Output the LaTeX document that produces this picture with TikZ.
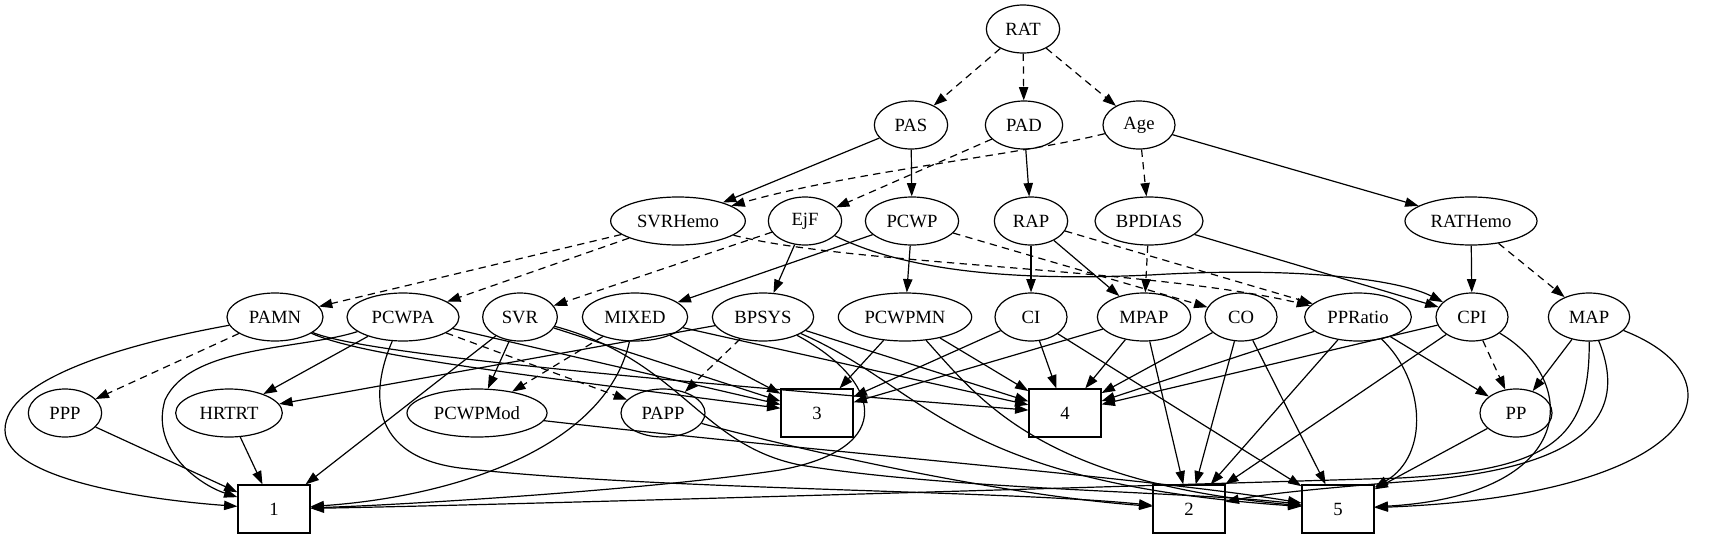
\documentclass[tikz,border=0pt]{standalone}
\usepackage{fontspec}
\setmainfont{Liberation Serif}
\usetikzlibrary{shapes.geometric,arrows.meta}
\begin{document}
\begin{tikzpicture}[x=0.75pt,y=-0.75pt,
  every node/.style={font=\fontsize{14}{16}\selectfont},
  el/.style={ellipse,draw,line width=0.9pt,minimum height=36pt,inner sep=0pt},
  bx/.style={rectangle,draw,line width=0.9pt,minimum width=54pt,minimum height=36pt,inner sep=0pt},
  ed/.style={line width=0.9pt,-{Triangle[length=10pt,width=7pt]}},
  de/.style={ed,dash pattern=on 5.5pt off 4pt}]
\useasboundingbox (0,0) rectangle (1723,539);
% nodes
\node[el,minimum width=55pt] (RAT) at (1023,29) {RAT};
\node[el,minimum width=55pt] (PAS) at (911,125) {PAS};
\node[el,minimum width=58pt] (PAD) at (1024,125) {PAD};
\node[el,minimum width=54pt] (Age) at (1139,125) {Age};
\node[el,minimum width=101pt] (SVRHemo) at (678,221) {SVRHemo};
\node[el,minimum width=55pt] (EjF) at (805,221) {EjF};
\node[el,minimum width=70pt] (PCWP) at (912,221) {PCWP};
\node[el,minimum width=55pt] (RAP) at (1031,221) {RAP};
\node[el,minimum width=81pt] (BPDIAS) at (1149,221) {BPDIAS};
\node[el,minimum width=99pt] (RATHemo) at (1471,221) {RATHemo};
\node[el,minimum width=72pt] (PAMN) at (275,317) {PAMN};
\node[el,minimum width=84pt] (PCWPA) at (403,317) {PCWPA};
\node[el,minimum width=56pt] (SVR) at (520,317) {SVR};
\node[el,minimum width=79pt] (MIXED) at (635,317) {MIXED};
\node[el,minimum width=76pt] (BPSYS) at (763,317) {BPSYS};
\node[el,minimum width=100pt] (PCWPMN) at (905,317) {PCWPMN};
\node[el,minimum width=54pt] (CI) at (1031,317) {CI};
\node[el,minimum width=70pt] (MPAP) at (1144,317) {MPAP};
\node[el,minimum width=54pt] (CO) at (1241,317) {CO};
\node[el,minimum width=80pt] (PPRatio) at (1358,317) {PPRatio};
\node[el,minimum width=54pt] (CPI) at (1472,317) {CPI};
\node[el,minimum width=61pt] (MAP) at (1589,317) {MAP};
\node[el,minimum width=55pt] (PPP) at (65,413) {PPP};
\node[el,minimum width=80pt] (HRTRT) at (229,413) {HRTRT};
\node[el,minimum width=105pt] (PCWPMod) at (477,413) {PCWPMod};
\node[el,minimum width=63pt] (PAPP) at (663,413) {PAPP};
\node[bx] (b3) at (817,413) {3};
\node[bx] (b4) at (1065,413) {4};
\node[el,minimum width=54pt] (PP) at (1516,413) {PP};
\node[bx] (b1) at (274,509) {1};
\node[bx] (b2) at (1189,509) {2};
\node[bx] (b5) at (1338,509) {5};
% dashed edges
\draw[de] (RAT) -- (PAS);
\draw[de] (RAT) -- (PAD);
\draw[de] (RAT) -- (Age);
\draw[de] (PAD) -- (EjF);
\draw[de] (Age) .. controls (1020,155) and (850,172) .. (SVRHemo);
\draw[de] (Age) -- (BPDIAS);
\draw[de] (SVRHemo) -- (PAMN);
\draw[de] (SVRHemo) -- (PCWPA);
\draw[de] (SVRHemo) .. controls (850,265) and (1150,268) .. (PPRatio);
\draw[de] (EjF) -- (SVR);
\draw[de] (PCWP) -- (CO);
\draw[de] (RAP) -- (PPRatio);
\draw[de] (BPDIAS) -- (MPAP);
\draw[de] (RATHemo) -- (MAP);
\draw[de] (PAMN) -- (PPP);
\draw[de] (PCWPA) -- (PAPP);
\draw[de] (MIXED) -- (PCWPMod);
\draw[de] (BPSYS) -- (PAPP);
\draw[de] (CPI) -- (PP);
% solid edges
\draw[ed] (PAS) -- (SVRHemo);
\draw[ed] (PAS) -- (PCWP);
\draw[ed] (PAD) -- (RAP);
\draw[ed] (Age) -- (RATHemo);
\draw[ed] (EjF) -- (BPSYS);
\draw[ed] (EjF) .. controls (900,268) and (1000,282) .. (1150,275) .. controls (1300,266) and (1400,280) .. (CPI);
\draw[ed] (PCWP) -- (MIXED);
\draw[ed] (PCWP) -- (PCWPMN);
\draw[ed] (RAP) -- (CI);
\draw[ed] (RAP) -- (MPAP);
\draw[ed] (BPDIAS) -- (CPI);
\draw[ed] (RATHemo) -- (CPI);
\draw[ed] (PAMN) .. controls (120,345) and (5,380) .. (5,430) .. controls (5,480) and (150,500) .. (b1);
\draw[ed] (PAMN) .. controls (360,355) and (500,372) .. (b3);
\draw[ed] (PAMN) .. controls (360,352) and (600,376) .. (b4);
\draw[ed] (PCWPA) -- (HRTRT);
\draw[ed] (PCWPA) .. controls (300,350) and (190,345) .. (165,400) .. controls (150,450) and (200,485) .. (b1);
\draw[ed] (PCWPA) .. controls (375,380) and (360,455) .. (460,468) .. controls (650,490) and (1000,490) .. (b2);
\draw[ed] (PCWPA) -- (b3);
\draw[ed] (SVR) -- (PCWPMod);
\draw[ed] (SVR) -- (b1);
\draw[ed] (SVR) -- (b3);
\draw[ed] (SVR) .. controls (680,360) and (700,445) .. (800,465) .. controls (950,490) and (1200,492) .. (b5);
\draw[ed] (MIXED) -- (b3);
\draw[ed] (MIXED) -- (b4);
\draw[ed] (MIXED) .. controls (605,450) and (450,497) .. (b1);
\draw[ed] (BPSYS) -- (HRTRT);
\draw[ed] (BPSYS) -- (b4);
\draw[ed] (BPSYS) .. controls (880,380) and (900,448) .. (780,470) .. controls (650,490) and (400,505) .. (b1);
\draw[ed] (BPSYS) .. controls (930,390) and (950,482) .. (b5);
\draw[ed] (PCWPMN) -- (b3);
\draw[ed] (PCWPMN) -- (b4);
\draw[ed] (PCWPMN) .. controls (980,400) and (1040,482) .. (b5);
\draw[ed] (CI) -- (b3);
\draw[ed] (CI) -- (b4);
\draw[ed] (CI) -- (b5);
\draw[ed] (MPAP) -- (b3);
\draw[ed] (MPAP) -- (b4);
\draw[ed] (MPAP) -- (b2);
\draw[ed] (CO) -- (b4);
\draw[ed] (CO) -- (b2);
\draw[ed] (CO) -- (b5);
\draw[ed] (PPRatio) -- (b4);
\draw[ed] (PPRatio) -- (b2);
\draw[ed] (PPRatio) -- (PP);
\draw[ed] (PPRatio) .. controls (1425,380) and (1430,455) .. (b5);
\draw[ed] (CPI) -- (b4);
\draw[ed] (CPI) -- (b2);
\draw[ed] (CPI) .. controls (1580,380) and (1580,495) .. (b5);
\draw[ed] (MAP) -- (PP);
\draw[ed] (MAP) .. controls (1590,440) and (1550,470) .. (1400,478) .. controls (1000,490) and (500,505) .. (b1);
\draw[ed] (MAP) .. controls (1635,430) and (1560,472) .. (1400,482) .. controls (1300,490) and (1260,495) .. (b2);
\draw[ed] (MAP) .. controls (1750,380) and (1700,495) .. (b5);
\draw[ed] (PPP) -- (b1);
\draw[ed] (HRTRT) -- (b1);
\draw[ed] (PCWPMod) .. controls (800,450) and (1150,478) .. (b5);
\draw[ed] (PAPP) .. controls (800,450) and (1000,495) .. (b2);
\draw[ed] (PP) -- (b5);
\end{tikzpicture}
\end{document}
